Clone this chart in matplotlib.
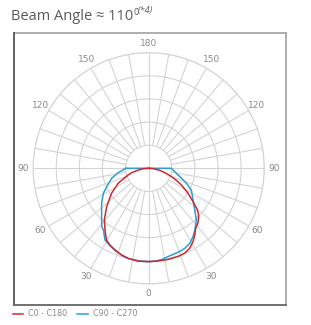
import matplotlib
matplotlib.use("Agg")

import matplotlib.pyplot as plt
import numpy as np
from matplotlib.lines import Line2D

# gamma angles (deg, 0 = down, negative = left half), intensity in arbitrary units (ring = 100)
red_angles = [-90, -85, -80, -75, -72, -64, -56, -47.6, -40.6, -34, -30.4, -26.8, -22.4,
              -17.3, -12.7, -6.4, 0, 5.7, 12, 18.4, 22.9, 27.1, 31.1, 34.6, 38, 42,
              45, 47.5, 50, 53, 57.5, 63, 66, 70, 75, 80, 85, 90]
red_vals = [0, 26, 48, 78, 93, 146, 194, 246, 295, 336, 360, 372, 382,
            393, 400, 404, 404, 403, 403, 402, 399, 389, 371, 351, 330, 318,
            305, 292, 272, 240, 202, 159, 135, 105, 72, 46, 22, 0]

blue_angles = [-90, -82, -74.9, -66.4, -61.1, -53.3, -44.2, -39, -36.3, -31.4, -26.8, -22,
               -17, -12.7, -6.4, 0, 4, 8, 12.3, 19.2, 24.2, 28.7, 33, 36.7, 42.7,
               47.8, 54.4, 63, 68.3, 73, 79.8, 90]
blue_vals = [98, 132, 166, 198, 224, 254, 292, 323, 331, 363, 374, 385,
             394, 400, 404, 404, 403, 399, 391, 385, 380, 370, 352, 334, 304,
             269, 236, 207, 176, 148, 122, 98]

theta_ticks = [0, 30, 60, 90, 120, 150, 180, -150, -120, -90, -60, -30]
theta_labels = ["0", "30", "60", "90", "120", "150", "180", "150", "120", "90", "60", "30"]
rings = [100, 200, 300, 400, 500]

red = "#d0262f"
blue = "#2a9fd2"
grid_c = "#d4d4d4"

fig = plt.figure(figsize=(3.11, 3.25), dpi=100)
ax = fig.add_axes([0.1064, 0.1265, 0.7434, 0.7114], projection="polar")
ax.set_theta_zero_location("S")
ax.set_theta_direction(1)
ax.set_ylim(0, 500)
ax.grid(False)
ax.set_xticks([])
ax.set_yticks([])
ax.spines["polar"].set_color(grid_c)
ax.spines["polar"].set_linewidth(0.8)

# grid: rings and spokes
t = np.linspace(0, 2 * np.pi, 361)
for r in rings:
    ax.plot(t, np.full_like(t, r), color=grid_c, lw=0.8, zorder=1)
for a in range(0, 360, 10):
    r0 = 0 if a % 90 == 0 else 100
    ax.plot([np.deg2rad(a)] * 2, [r0, 500], color=grid_c, lw=0.8, zorder=1)

for a, lab in zip(theta_ticks, theta_labels):
    ax.text(np.deg2rad(a), 541, lab, ha="center", va="center", fontsize=6.5,
            color="#8a8a8a", clip_on=False)

# closed curves: the last segment joins the two 90 deg ends across the centre
ax.plot(np.deg2rad(blue_angles + blue_angles[:1]), blue_vals + blue_vals[:1],
        color=blue, lw=1.1, zorder=3)
ax.plot(np.deg2rad(red_angles), red_vals, color=red, lw=1.1, zorder=4)

# frame around the chart (left/bottom darker)
fx0, fx1 = 13.5 / 311, 285.5 / 311
fy0, fy1 = 1 - 304.5 / 325, 1 - 32.5 / 325
fig.add_artist(Line2D([fx0, fx1], [fy1, fy1], color="#a8a8a8", lw=1.3))
fig.add_artist(Line2D([fx1, fx1], [fy0, fy1], color="#a8a8a8", lw=1.3))
fig.add_artist(Line2D([fx0, fx0], [fy0, fy1], color="#555555", lw=1.3))
fig.add_artist(Line2D([fx0, fx1], [fy0, fy0], color="#666666", lw=1.3))

# title
fig.text(11 / 311, 1 - 17 / 325, "Beam Angle \u2248 110", fontsize=10.5, color="#5a5a5a",
         ha="left", va="center", family="Open Sans")
fig.text(134 / 311, 1 - 12.5 / 325, "0", fontsize=6.5, color="#5a5a5a",
         ha="left", va="center", family="Open Sans")
fig.text(138 / 311, 1 - 11 / 325, "(*4)", fontsize=6.5, color="#5a5a5a",
         ha="left", va="center", family="Open Sans", style="italic")

# legend
ly = 1 - 313.5 / 325
fig.add_artist(Line2D([13 / 311, 23 / 311], [ly, ly], color=red, lw=1.1))
fig.text(28 / 311, ly, "C0 - C180", fontsize=5.8, color="#8a8a8a", ha="left", va="center")
fig.add_artist(Line2D([77 / 311, 88 / 311], [ly, ly], color=blue, lw=1.1))
fig.text(93 / 311, ly, "C90 - C270", fontsize=5.8, color="#8a8a8a", ha="left", va="center")

fig.savefig("out.png", dpi=100)
